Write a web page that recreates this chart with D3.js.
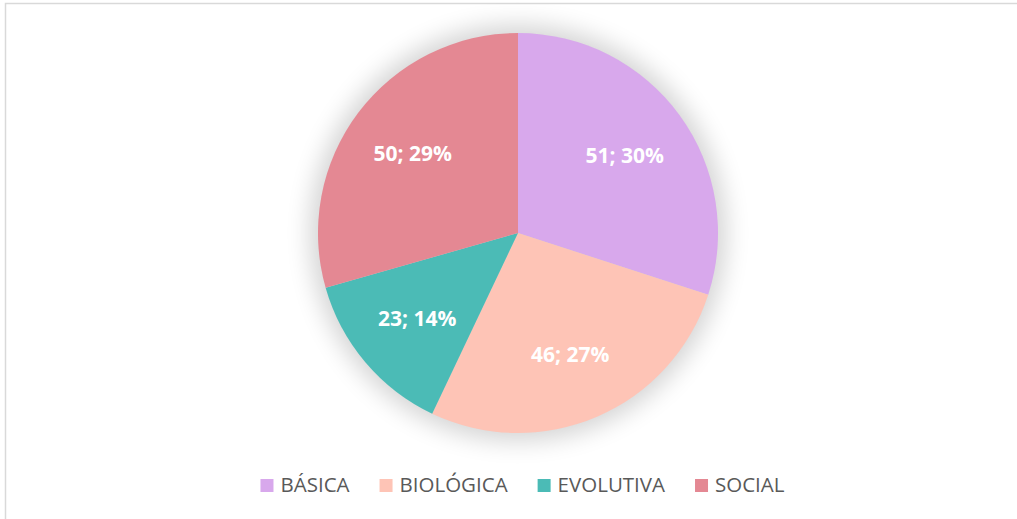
<!DOCTYPE html>
<meta charset="utf-8">
<script src="https://d3js.org/d3.v7.min.js"></script>
<style>
  body { margin: 0; background: #fff; }
</style>
<body>
<div id="chart"></div>
<script>

// data
var categories = ["BÁSICA", "BIOLÓGICA", "EVOLUTIVA", "SOCIAL"];
var values = [51, 46, 23, 50];
var percentLabels = ["30%", "27%", "14%", "29%"];
var colors = ["#D8A8EC", "#FEC4B6", "#4BBBB6", "#E48893"];

var width = 1017, height = 519;
var cx = 518, cy = 233, radius = 200;

var svg = d3.select("#chart")
  .append("svg")
    .attr("width", width)
    .attr("height", height);

// chart border (right and bottom run off the page)
svg.append("rect")
  .attr("x", 5.5).attr("y", 3.5)
  .attr("width", 1040).attr("height", 540)
  .attr("fill", "#fff")
  .attr("stroke", "#d9d9d9")
  .attr("stroke-width", 1.5);

// soft shadow behind the pie
var defs = svg.append("defs");
defs.append("filter")
    .attr("id", "glow")
    .attr("x", "-40%").attr("y", "-40%")
    .attr("width", "180%").attr("height", "180%")
  .append("feGaussianBlur")
    .attr("stdDeviation", 12);

var g = svg.append("g")
  .attr("transform", "translate(" + cx + "," + cy + ")");

g.append("circle")
  .attr("r", radius + 8)
  .attr("fill", "#000")
  .attr("opacity", 0.17)
  .attr("filter", "url(#glow)");

var pie = d3.pie().sort(null).value(function(d) { return d; });
var arc = d3.arc().innerRadius(0).outerRadius(radius);
var labelArc = d3.arc().innerRadius(132).outerRadius(132);

var arcs = pie(values);

g.selectAll("path")
  .data(arcs)
  .enter().append("path")
    .attr("d", arc)
    .attr("fill", function(d, i) { return colors[i]; });

g.selectAll("text.lbl")
  .data(arcs)
  .enter().append("text")
    .attr("class", "lbl")
    .attr("transform", function(d) { return "translate(" + labelArc.centroid(d) + ")"; })
    .attr("text-anchor", "middle")
    .attr("dy", "0.35em")
    .style("font-family", "'Open Sans', sans-serif")
    .style("font-weight", "bold")
    .style("font-size", "21px")
    .style("fill", "#fff")
    .text(function(d, i) { return d.data + "; " + percentLabels[i]; });

// legend
var legend = svg.append("g");
var lx = 0, gap = 30;
var items = legend.selectAll("g")
  .data(categories)
  .enter().append("g");

items.append("rect")
  .attr("y", -13)
  .attr("width", 13).attr("height", 13)
  .attr("fill", function(d, i) { return colors[i]; });

items.append("text")
  .attr("x", 20)
  .style("font-family", "'Open Sans', sans-serif")
  .style("font-size", "20.5px")
  .style("fill", "#595959")
  .text(function(d) { return d; });

items.each(function() {
  var item = d3.select(this);
  item.attr("transform", "translate(" + lx + ",0)");
  lx += 20 + item.select("text").node().getComputedTextLength() + gap;
});
var legendWidth = lx - gap;
legend.attr("transform", "translate(" + (522.5 - legendWidth / 2) + ",492)");

</script>
</body>
